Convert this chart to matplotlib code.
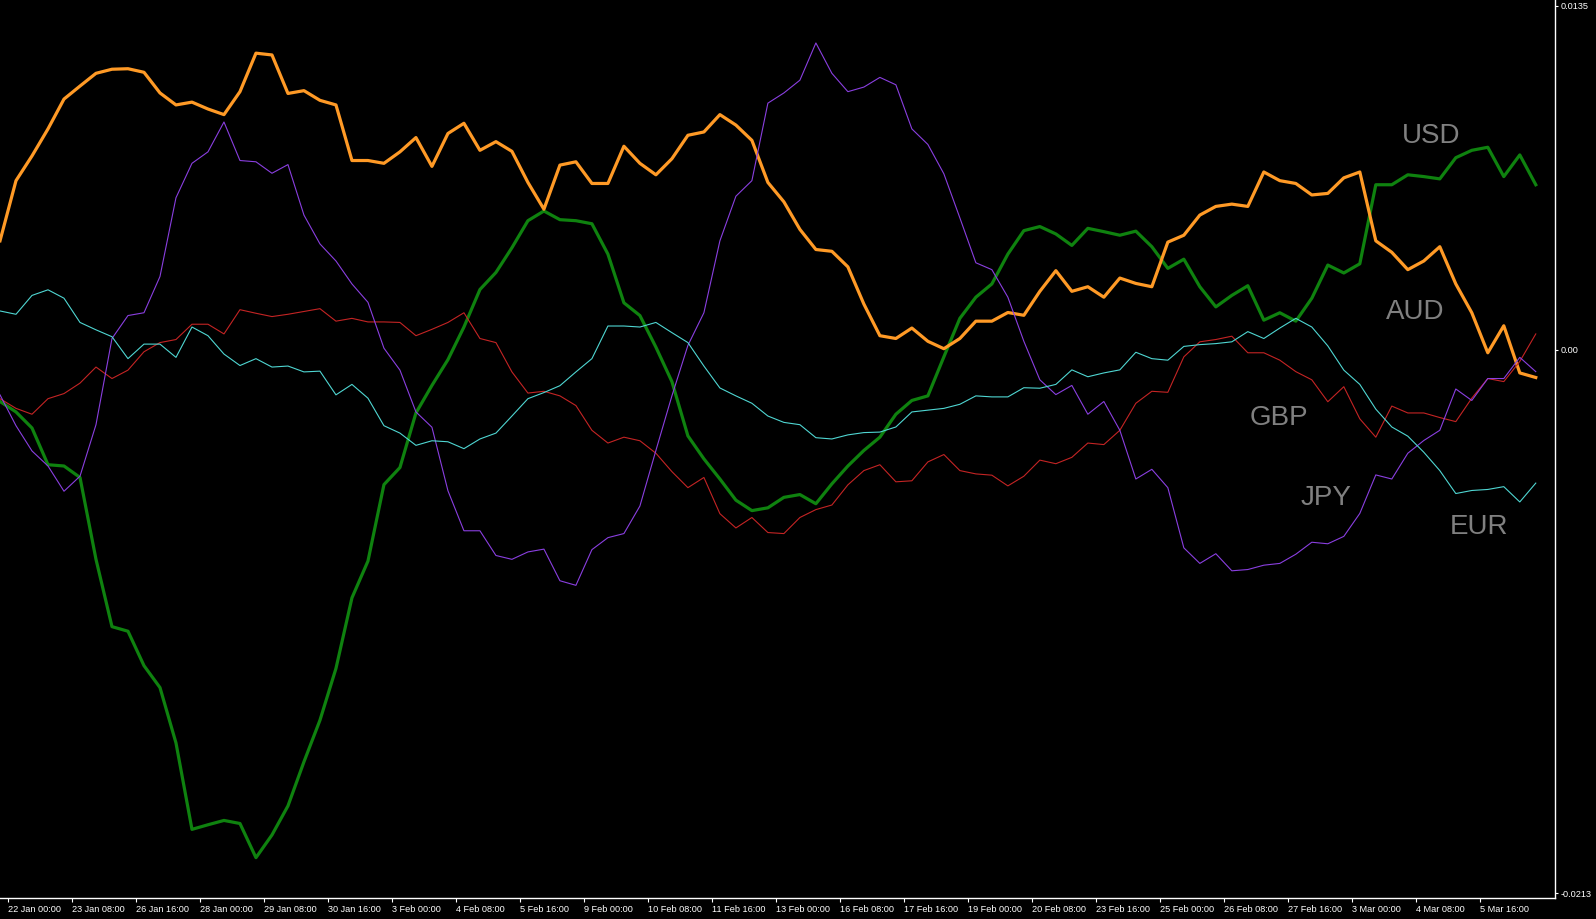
import numpy as np
import matplotlib
matplotlib.use("Agg")
import matplotlib.pyplot as plt

plt.rcParams['font.family'] = ['Liberation Sans', 'DejaVu Sans']

# ================== data (values in 1e-4, one point every 2 H4 bars) ==================
bars = np.arange(0, 193, 2)

usd = [-20.2, -24.3, -30.6, -45.0, -45.5, -50.0, -82.1, -108.5, -110.3, -123.8, -132.4,
       -154.1, -188.0, -186.2, -184.5, -185.7, -199.1, -190.2, -178.8, -161.5, -145.2,
       -124.9, -97.2, -82.8, -52.8, -46.1, -24.7, -13.9, -3.8, 9.0, 23.7, 30.4, 40.1,
       50.7, 54.5, 51.1, 50.7, 49.5, 37.6, 18.5,
       13.5, 1.1, -12.4, -33.7, -42.7, -50.6, -58.9, -63.0, -61.9, -57.8, -56.7, -60.3,
       -52.5, -45.5, -39.4, -34.2, -25.2, -19.8, -18.0,
       -2.7, 12.4, 20.7, 25.9, 37.6, 46.8, 48.4, 45.5, 41.0, 47.7, 46.4, 45.0, 46.6,
       40.5, 32.0, 35.6, 24.8, 16.9, 21.4, 25.2,
       11.7, 14.6, 11.3, 20.3, 33.3, 30.2, 33.8, 64.8, 64.8, 68.7, 68.0, 67.1, 75.4,
       78.3, 79.5, 68.0, 76.5, 64.8]

aud = [42.8, 66.4, 76.1, 86.7, 98.4, 103.5, 108.5, 110.1, 110.3, 108.9, 100.8, 96.1,
       97.2, 94.5, 92.3, 101.3, 116.4, 115.7, 100.6, 101.7, 97.9,
       96.1, 74.3, 74.3, 73.2, 77.7, 83.3, 72.0, 84.9, 88.9, 78.3, 81.7, 77.9, 65.7,
       55.2, 72.5, 73.8, 65.3, 65.3, 79.9,
       73.2, 68.7, 75.0, 84.2, 85.5, 92.3, 88.2, 82.2, 65.7, 58.1, 47.3, 39.4, 38.7,
       32.6, 18.0, 5.6, 4.5, 8.6, 3.4,
       0.5, 4.5, 11.3, 11.3, 14.7, 13.6, 23.0, 31.1, 23.0, 24.8, 20.7, 28.2, 26.1,
       24.8, 42.3, 45.0, 52.9, 56.3, 57.2, 56.3,
       69.8, 66.4, 65.3, 60.8, 61.4, 67.5, 69.8, 42.8, 38.3, 31.5, 34.9, 40.5, 25.9,
       14.6, -1.1, 9.5, -9.0, -10.8]

gbp = [-19.1, -22.9, -25.2, -19.1, -17.1, -13.0, -6.7, -11.2, -7.9, -0.7, 2.9, 4.1,
       10.1, 10.1, 6.3, 15.8, 14.4, 13.1, 14.0, 15.1, 16.2,
       11.3, 12.4, 11.0, 11.0, 10.8, 5.6, 8.1, 10.8, 14.6, 4.5, 2.9, -8.6, -16.9,
       -16.2, -18.0, -21.8, -31.5, -36.5, -34.2,
       -35.6, -40.5, -47.7, -54.0, -50.0, -64.2, -69.8, -65.7, -71.6, -72.0, -65.7,
       -62.6, -60.8, -52.9, -47.3, -45.0, -51.7, -51.3, -43.9,
       -41.0, -47.3, -48.6, -49.1, -53.3, -49.5, -43.2, -44.6, -42.1, -36.5, -37.1,
       -31.5, -20.9, -16.2, -16.6, -2.7, 3.2, 4.1, 5.4, -1.1,
       -1.1, -4.0, -8.5, -11.7, -20.3, -14.4, -27.0, -34.2, -22.0, -24.7, -24.7,
       -26.5, -28.1, -18.9, -11.2, -12.4, -4.5, 6.3]

jpy = [-17.6, -29.7, -39.6, -45.5, -55.4, -49.5, -29.3, 4.5, 13.5, 14.6, 28.8, 59.7,
       73.2, 77.7, 89.4, 74.3, 73.8, 69.3, 72.7, 52.9, 41.6,
       34.9, 25.9, 18.7, 0.7, -7.9, -24.3, -30.3, -55.2, -70.9, -70.9, -80.6, -82.1,
       -79.2, -78.1, -90.5, -92.3, -78.3, -73.6, -72.0,
       -61.2, -39.4, -18.0, 1.8, 14.6, 42.8, 60.3, 66.4, 96.8, 100.8, 105.8, 120.4,
       108.5, 101.3, 103.1, 106.9, 104.0, 86.7, 80.6,
       69.1, 51.8, 34.2, 31.5, 20.7, 3.4, -11.7, -17.5, -13.9, -25.2, -20.2, -31.5,
       -50.6, -46.8, -54.0, -77.6, -83.7, -79.9, -86.6, -86.1,
       -84.4, -83.7, -80.1, -75.4, -76.0, -73.1, -64.1, -49.0, -50.6, -40.5, -35.5,
       -31.5, -15.3, -19.8, -11.2, -11.2, -2.9, -8.5]

eur = [15.3, 14.0, 21.4, 23.6, 20.3, 10.8, 7.9, 5.2, -3.4, 2.3, 2.3, -2.9, 9.0, 5.6,
       -1.6, -6.1, -3.4, -6.7, -6.3, -8.6, -8.3,
       -17.6, -13.5, -18.9, -29.7, -32.6, -37.4, -35.6, -36.0, -38.7, -34.9, -32.6,
       -25.9, -19.1, -16.7, -14.0, -8.6, -3.4, 9.4, 9.4,
       9.0, 10.8, 6.8, 2.9, -6.3, -14.9, -18.0, -20.9, -25.9, -28.4, -29.3, -34.4,
       -34.9, -33.3, -32.4, -32.2, -30.2, -24.3, -23.6,
       -22.9, -21.3, -18.0, -18.4, -18.4, -14.8, -15.0, -13.5, -7.8, -10.5, -9.0,
       -7.8, -0.9, -3.4, -4.0, 1.4, 2.1, 2.5, 3.2, 7.2,
       4.5, 8.6, 12.4, 9.0, 1.6, -7.9, -13.5, -23.2, -30.2, -33.8, -40.1, -47.3,
       -56.3, -55.1, -54.7, -53.6, -59.6, -52.2]

tick_bars = np.arange(1, 186, 8)
tick_labels = ["22 Jan 00:00", "23 Jan 08:00", "26 Jan 16:00", "28 Jan 00:00",
               "29 Jan 08:00", "30 Jan 16:00", "3 Feb 00:00", "4 Feb 08:00",
               "5 Feb 16:00", "9 Feb 00:00", "10 Feb 08:00", "11 Feb 16:00",
               "13 Feb 00:00", "16 Feb 08:00", "17 Feb 16:00", "19 Feb 00:00",
               "20 Feb 08:00", "23 Feb 16:00", "25 Feb 00:00", "26 Feb 08:00",
               "27 Feb 16:00", "3 Mar 00:00", "4 Mar 08:00", "5 Mar 16:00"]
y_ticks = [0.0135, 0.0, -0.0213]
y_tick_labels = ["0.0135", "0.00", "-0.0213"]

scale = 1e-4

# ================== figure ==================
fig = plt.figure(figsize=(15.96, 9.19), dpi=100, facecolor='black')
ax = fig.add_axes([0.0, 0.0229, 0.9743, 0.9771], facecolor='black')

ax.plot(bars, np.array(usd) * scale, color='#0f820f', linewidth=2.3, zorder=3)
ax.plot(bars, np.array(aud) * scale, color='#ff9a26', linewidth=2.3, zorder=3)
ax.plot(bars, np.array(gbp) * scale, color='#c42424', linewidth=0.8, zorder=4)
ax.plot(bars, np.array(jpy) * scale, color='#8a3fe0', linewidth=0.8, zorder=4)
ax.plot(bars, np.array(eur) * scale, color='#4fd6d2', linewidth=0.8, zorder=4)

# currency labels
lab_kw = dict(color='#808080', fontsize=20, ha='center', va='baseline', zorder=5)
ax.text(178.9, 81.0 * scale, "USD", **lab_kw)
ax.text(176.9, 12.2 * scale, "AUD", **lab_kw)
ax.text(159.9, -29.4 * scale, "GBP", **lab_kw)
ax.text(165.8, -60.8 * scale, "JPY", **lab_kw)
ax.text(184.9, -72.2 * scale, "EUR", **lab_kw)

ax.set_xlim(0, 194.4)
ax.set_ylim(-0.02149, 0.013725)

ax.set_xticks(tick_bars)
ax.set_xticklabels(tick_labels, fontsize=6.6, color='white', ha='left')
ax.set_yticks(y_ticks)
ax.set_yticklabels(y_tick_labels, fontsize=6.6, color='white')
ax.yaxis.tick_right()
ax.tick_params(axis='x', colors='white', length=3, width=0.8, pad=2)
ax.tick_params(axis='y', colors='white', length=2, width=0.8, pad=2)
for lbl in ax.get_xticklabels():
    lbl.set_color('white')

for side in ['top', 'left']:
    ax.spines[side].set_visible(False)
for side in ['bottom', 'right']:
    ax.spines[side].set_color('white')
    ax.spines[side].set_linewidth(1.0)

plt.savefig("out.png", dpi=100, facecolor='black')
